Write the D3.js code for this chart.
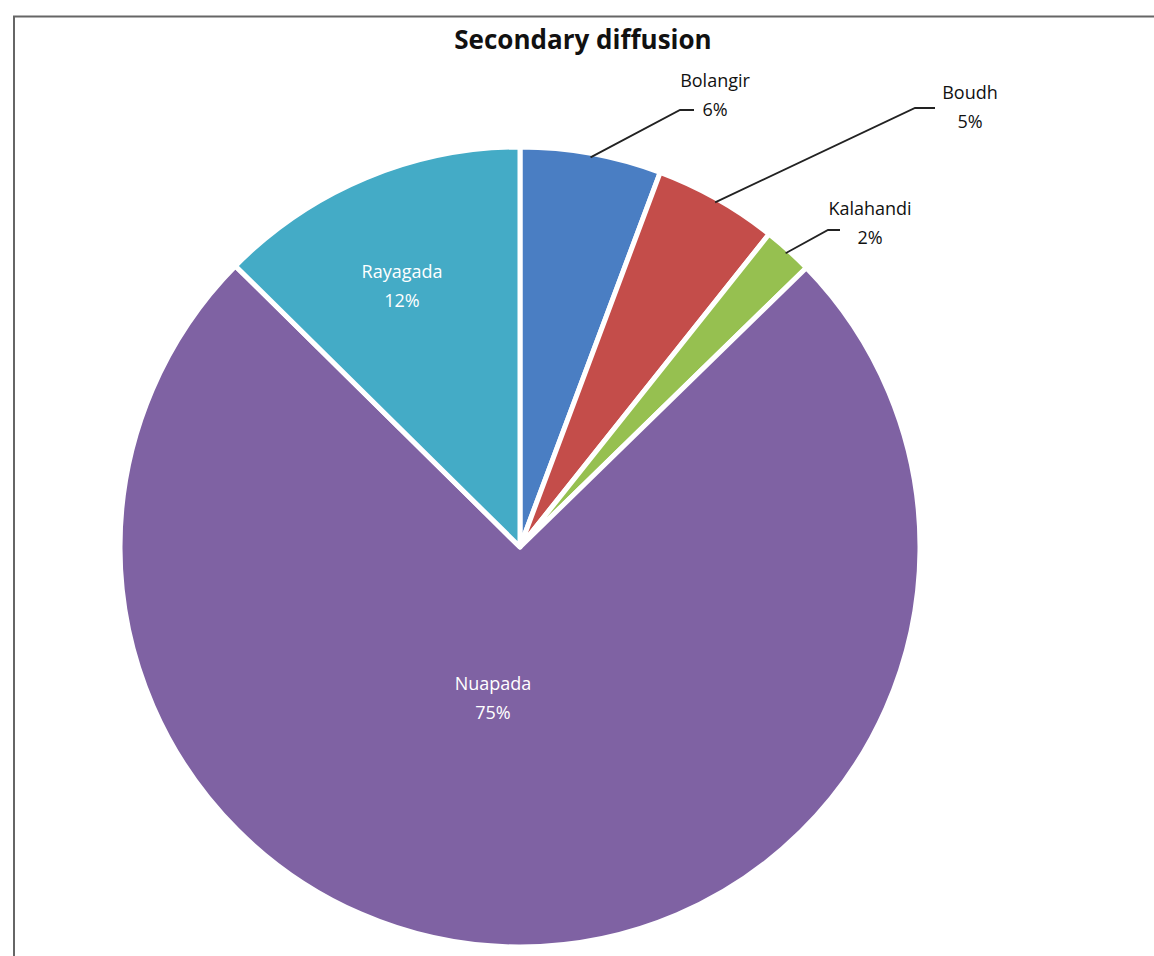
<!DOCTYPE html>
<html><head><meta charset="utf-8">
<script src="https://cdn.jsdelivr.net/npm/d3@7"></script>
<style>body{margin:0;background:#fff}svg{display:block}</style>
</head><body>
<script>
const title = "Secondary diffusion";
const categories = ["Bolangir","Boudh","Kalahandi","Nuapada","Rayagada"];
const values = [5.7, 5.0, 2.0, 74.7, 12.6];
const percentLabels = ["6%","5%","2%","75%","12%"];
const colors = ["#4a7ec3","#c44d4a","#96c050","#7f62a3","#44abc6"];

const W = 1154, H = 956;
const svg = d3.select("body").append("svg").attr("width", W).attr("height", H);
const font = "'Open Sans', sans-serif";

// frame
svg.append("path").attr("d", `M14,${H} L14,16.5 L${W},16.5`)
  .attr("fill","none").attr("stroke","#666").attr("stroke-width",2);

svg.append("text").attr("x", 583).attr("y", 49).attr("text-anchor","middle")
  .attr("font-family", font).attr("font-weight","bold").attr("font-size",26)
  .attr("fill","#111").text(title);

const cx = 520, cy = 547, R = 400;
const pie = d3.pie().sort(null).value(d => d)(values);
const arc = d3.arc().innerRadius(0).outerRadius(R);
const g = svg.append("g").attr("transform", `translate(${cx},${cy})`);
g.selectAll("path").data(pie).join("path")
  .attr("d", arc).attr("fill", (d,i) => colors[i])
  .attr("stroke","#fff").attr("stroke-width",5).attr("stroke-linejoin","round");

// inside labels
const insidePos = {3: [-27, 143], 4: [-118, -269]};
[3,4].forEach(i => {
  const pos = insidePos[i];
  const t = g.append("text").attr("text-anchor","middle").attr("font-family",font)
    .attr("font-size",18).attr("fill","#fff");
  t.append("tspan").attr("x",pos[0]).attr("y",pos[1]).text(categories[i]);
  t.append("tspan").attr("x",pos[0]).attr("y",pos[1]+29).text(percentLabels[i]);
});

// outside labels with leader lines
const outside = [
  {i:0, tx:715, ty:87, line:[[0,0],[680,110],[694,110]]},
  {i:1, tx:970, ty:99, line:[[0,0],[915,108],[935,108]]},
  {i:2, tx:870, ty:215, line:[[0,0],[828,230],[840,230]]}
];
outside.forEach(o => {
  const d = pie[o.i];
  const outerArc = d3.arc().innerRadius(R).outerRadius(R);
  const p0 = outerArc.centroid(d);
  const start = [cx + p0[0]*0.99, cy + p0[1]*0.99];
  svg.append("path")
    .attr("d", d3.line()([start, o.line[1], o.line[2]]))
    .attr("fill","none").attr("stroke","#222").attr("stroke-width",1.8);
  const t = svg.append("text").attr("text-anchor","middle").attr("font-family",font)
    .attr("font-size",18).attr("fill","#111");
  t.append("tspan").attr("x",o.tx).attr("y",o.ty).text(categories[o.i]);
  t.append("tspan").attr("x",o.tx).attr("y",o.ty+29).text(percentLabels[o.i]);
});
</script>
</body></html>
